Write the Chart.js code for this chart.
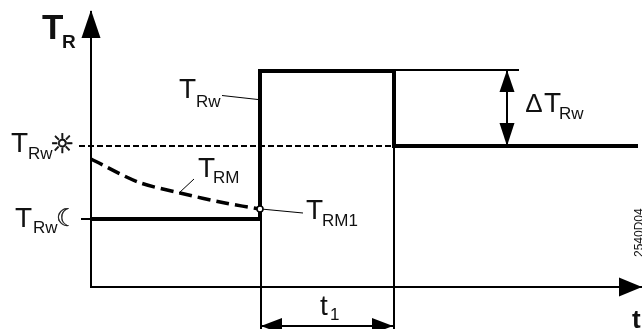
<!DOCTYPE html>
<html lang="en">
<head>
    <meta charset="UTF-8">
    <title>Room temperature setpoint step</title>
    <script src="https://cdn.jsdelivr.net/npm/chart.js"></script>
    <style>
        html, body { margin: 0; padding: 0; background: white; }
        #stepChart { display: block; }
    </style>
</head>
<body>
    <canvas id="stepChart" width="642" height="329"></canvas>
    <script>
        // time marks along the x axis and temperature levels on the y axis
        var tStepUp = 169, tStepDown = 303, tEnd = 547;
        var tAxisMax = 551, tBelow = -42;
        var levelNight = 68, levelDay = 141, levelBoost = 216;
        var yAxisMax = 275;

        var setpointT = [0, tStepUp, tStepUp, tStepDown, tStepDown, tEnd];
        var setpointV = [levelNight, levelNight, levelBoost, levelBoost, levelDay, levelDay];

        // measured room temperature, falling until the step
        var roomT = [0, 47, 89, 134, 169];
        var roomV = [128, 105, 94, 84, 78];

        var dayLineT = [-12, tStepDown];
        var nightTickT = [-10, 0];
        var boostLineT = [tStepDown, 428];
        var deltaT = 416;
        var t1Y = -39;

        var leaderRw = [[131, 191.5], [167, 187.5]];
        var leaderRM = [[103, 108], [88, 94]];
        var leaderRM1 = [[170, 78], [212, 74]];

        // arrow tips: x, y, direction
        var arrowTips = [
            [0, 277, 'up', 28, 9.5],
            [551, 0, 'right', 23, 9.5],
            [deltaT, levelBoost + 1, 'up', 22, 7.5],
            [deltaT, levelDay, 'down', 23, 7.5],
            [170, t1Y, 'left', 21, 8],
            [302, t1Y, 'right', 21, 8]
        ];

        // text pieces: string, x px, baseline px, font, outline width
        var sans = '"Liberation Sans", Arial, sans-serif';
        var labels = [
            ['T', 42, 39, 'bold 35px ' + sans],
            ['R', 62, 48, 'bold 19px ' + sans],
            ['T', 179, 98, '28px ' + sans],
            ['Rw', 196, 107, '17px ' + sans],
            ['T', 11, 152, '28px ' + sans],
            ['Rw', 28, 159, '17px ' + sans],
            ['T', 15, 227, '28px ' + sans],
            ['Rw', 33, 233, '17px ' + sans],
            ['T', 198, 177, '28px ' + sans],
            ['RM', 213, 183, '17px ' + sans],
            ['T', 306, 219, '28px ' + sans],
            ['RM1', 322, 226, '17px ' + sans],
            ['\u2206', 526, 112, '26px ' + sans],
            ['T', 544, 112, '28px ' + sans],
            ['Rw', 559, 119, '17px ' + sans],
            ['t', 320, 315, '28px ' + sans],
            ['1', 330, 320, '17px ' + sans],
            ['t', 632, 328, 'bold 26px ' + sans],
            ['\u263C', 50, 153, 'bold 27px "DejaVu Sans"', 0.7],
            ['\u263E', 56, 226, '24px "DejaVu Sans"', 0.3]
        ];

        function xy(xs, ys) {
            return xs.map(function (x, i) { return { x: x, y: ys[i] }; });
        }
        function pairs(list) {
            return list.map(function (p) { return { x: p[0], y: p[1] }; });
        }
        function lineSet(points, width, extra) {
            return Object.assign({
                data: points,
                showLine: true,
                borderColor: '#000',
                borderWidth: width,
                pointRadius: 0,
                clip: false,
                tension: 0,
                borderJoinStyle: 'miter',
                borderCapStyle: 'butt'
            }, extra || {});
        }

        var drawingPlugin = {
            id: 'drawing',
            afterDraw: function (chart) {
                var c = chart.ctx, sx = chart.scales.x, sy = chart.scales.y;
                c.save();
                c.fillStyle = '#000';
                arrowTips.forEach(function (a) {
                    var px = sx.getPixelForValue(a[0]), py = sy.getPixelForValue(a[1]);
                    var len = a[3], half = a[4];
                    c.beginPath();
                    c.moveTo(px, py);
                    if (a[2] === 'up') { c.lineTo(px - half, py + len); c.lineTo(px + half, py + len); }
                    if (a[2] === 'down') { c.lineTo(px - half, py - len); c.lineTo(px + half, py - len); }
                    if (a[2] === 'left') { c.lineTo(px + len, py - half); c.lineTo(px + len, py + half); }
                    if (a[2] === 'right') { c.lineTo(px - len, py - half); c.lineTo(px - len, py + half); }
                    c.closePath();
                    c.fill();
                });
                c.fillStyle = '#111';
                c.strokeStyle = '#111';
                c.textBaseline = 'alphabetic';
                labels.forEach(function (l) {
                    c.font = l[3];
                    c.fillText(l[0], l[1], l[2]);
                    if (l[4]) {
                        c.lineWidth = l[4];
                        c.strokeText(l[0], l[1], l[2]);
                    }
                });
                // drawing number, turned on its side
                c.translate(643, 257);
                c.rotate(-Math.PI / 2);
                c.font = '12px ' + sans;
                c.fillText('2540D04', 0, 0);
                c.restore();
            }
        };

        new Chart(document.getElementById('stepChart'), {
            type: 'scatter',
            data: {
                datasets: [
                    // open circle where the room temperature meets the step
                    {
                        data: [{ x: tStepUp, y: roomV[4] }],
                        pointRadius: 3,
                        pointBackgroundColor: '#fff',
                        pointBorderColor: '#000',
                        pointBorderWidth: 1.5,
                        clip: false,
                        order: 0
                    },
                    lineSet(xy(setpointT, setpointV), 4, { order: 1 }),
                    lineSet(xy(roomT, roomV), 3.5, { borderDash: [13, 6], tension: 0.3, order: 2 }),
                    lineSet(xy(dayLineT, [levelDay, levelDay]), 2, { borderDash: [6, 3], order: 3 }),
                    lineSet(xy(nightTickT, [levelNight, levelNight]), 2, { order: 3 }),
                    lineSet(xy(boostLineT, [levelBoost + 1, levelBoost + 1]), 2, { order: 3 }),
                    lineSet(xy([deltaT, deltaT], [levelBoost + 1, levelDay]), 2, { order: 3 }),
                    lineSet(xy([tStepUp + 1, tStepUp + 1], [levelBoost, tBelow]), 2, { order: 4 }),
                    lineSet(xy([tStepDown, tStepDown], [levelDay, tBelow]), 2, { order: 4 }),
                    lineSet(xy([tStepUp + 1, tStepDown], [t1Y, t1Y]), 2, { order: 4 }),
                    lineSet(pairs(leaderRw), 1, { order: 5 }),
                    lineSet(pairs(leaderRM), 1, { order: 5 }),
                    lineSet(pairs(leaderRM1), 1, { order: 5 })
                ]
            },
            options: {
                responsive: false,
                animation: false,
                layout: { autoPadding: false, padding: { left: 91, right: 0, top: 12, bottom: 42 } },
                plugins: { legend: { display: false }, tooltip: { enabled: false } },
                scales: {
                    x: {
                        type: 'linear',
                        min: 0,
                        max: tAxisMax,
                        ticks: { display: false },
                        grid: { display: false, drawTicks: false },
                        border: { color: '#000', width: 2 },
                        afterFit: function (s) { s.height = 0; }
                    },
                    y: {
                        type: 'linear',
                        min: 0,
                        max: yAxisMax,
                        ticks: { display: false },
                        grid: { display: false, drawTicks: false },
                        border: { color: '#000', width: 2 },
                        afterFit: function (s) { s.width = 0; }
                    }
                }
            },
            plugins: [drawingPlugin]
        });
    </script>
</body>
</html>
